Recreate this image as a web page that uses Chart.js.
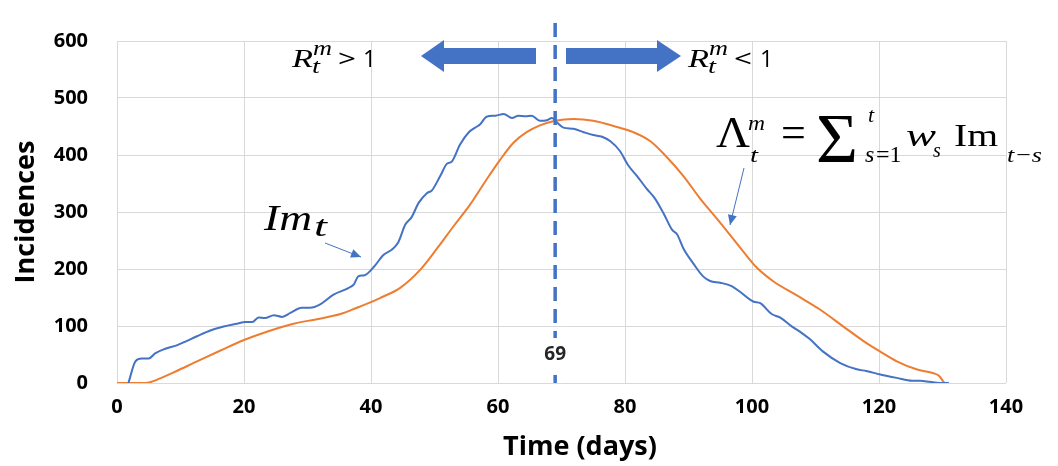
<!DOCTYPE html>
<html>
<head>
<meta charset="utf-8">
<script src="https://cdn.jsdelivr.net/npm/chart.js@4.4.1/dist/chart.umd.min.js"></script>
<style>
  html, body { margin: 0; padding: 0; background: #fff; }
</style>
</head>
<body>
<canvas id="chart" width="1058" height="466"></canvas>
<script>
// Im_t (blue)
const imDays = [1.8, 2.9, 3.9, 5, 6, 7.6, 9.4, 11, 12.6, 14.7, 16.8, 18.9, 20.2, 21.3, 22.3, 23.3, 24.7, 26, 27.3, 29.1,
  30.4, 32, 34.1, 36.5, 37.3, 38, 39, 40.4, 42, 43.3, 44.3, 45.4, 46.4, 47.5, 48.8, 49.6, 50.9, 52, 52.7, 54,
  55.4, 56.4, 57.2, 58.2, 59.6, 60.9, 62.2, 63.2, 64.3, 65.3, 66.6, 67.7, 68.5, 69.3, 70.3, 71.9, 73.5, 75, 76.4, 77.7,
  79.2, 80.5, 81.9, 83.4, 84.7, 86.1, 87.4, 88.2, 89.2, 90.8, 92.3, 93.4, 95, 96.8, 98.1, 100.2, 101.3, 103.1, 104.4, 106.3,
  107.8, 109.1, 111.2, 113.9, 116.5, 118, 120.2, 122.8, 125.2, 126.5, 128, 129.5, 131];
const imValues = [0, 38, 43, 43, 52, 60, 66, 74, 82, 92, 99, 104, 107, 107, 115, 114, 119, 116, 123, 132,
  132, 138, 155, 167, 173, 187, 189, 203, 225, 234, 247, 278, 291, 316, 333, 338, 363, 385, 388, 418,
  440, 448, 454, 467, 469, 472, 465, 469, 468, 469, 460, 461, 465, 457, 448, 446, 440, 435, 432, 424,
  407, 382, 363, 341, 324, 297, 269, 261, 236, 209, 187, 179, 176, 170, 160, 143, 140, 121, 115, 99,
  88, 77, 55, 35, 24, 21, 15, 9, 4, 4, 2, 0, 0];

// Lambda_t (orange)
const lambdaDays = [0, 4.5, 6.8, 9.4, 12.6, 16.3, 19.9, 23.6, 27.8, 31.5, 35.2, 37.8, 39.6, 41.4, 44.6, 47.7, 50.4, 53,
  55.6, 58.2, 60.3, 62.4, 64.5, 66.6, 69, 71.9, 75, 78.2, 81.3, 84, 86.6, 89.2, 91.8, 94.5, 96.6, 98.6,
  100.7, 103.4, 107, 110.7, 114.4, 117.5, 120.2, 122.8, 125.9, 128.6, 129.4, 130.3];
const lambdaValues = [0, 0, 8, 21, 38, 57, 75, 90, 104, 112, 121, 132, 140, 149, 167, 198, 236, 275,
  313, 357, 391, 421, 440, 452, 460, 463, 460, 451, 440, 424, 396, 363, 324, 288, 259, 231,
  203, 178, 154, 129, 99, 74, 55, 38, 24, 17, 13, 0];

const xTicks = [0, 20, 40, 60, 80, 100, 120, 140];
const yTicks = [0, 100, 200, 300, 400, 500, 600];
const peakDay = 69;

const BLUE = '#4472C4';
const ORANGE = '#ED7D31';

function pts(xs, ys) {
  return xs.map((x, i) => ({ x: x, y: ys[i] }));
}

// draw text squeezed/stretched to a given width
function fitText(ctx, str, x, y, w, font) {
  ctx.save();
  ctx.font = font;
  const m = ctx.measureText(str).width;
  ctx.translate(x, y);
  ctx.scale(w / m, 1);
  ctx.fillText(str, 0, 0);
  ctx.restore();
}

function arrowLine(ctx, x1, y1, x2, y2) {
  ctx.save();
  ctx.strokeStyle = BLUE;
  ctx.fillStyle = BLUE;
  ctx.lineWidth = 1;
  ctx.beginPath();
  ctx.moveTo(x1, y1);
  ctx.lineTo(x2, y2);
  ctx.stroke();
  const a = Math.atan2(y2 - y1, x2 - x1);
  ctx.translate(x2, y2);
  ctx.rotate(a);
  ctx.beginPath();
  ctx.moveTo(0, 0);
  ctx.lineTo(-10, -4.5);
  ctx.lineTo(-10, 4.5);
  ctx.closePath();
  ctx.fill();
  ctx.restore();
}

function polygon(ctx, p) {
  ctx.beginPath();
  ctx.moveTo(p[0][0], p[0][1]);
  for (let i = 1; i < p.length; i++) ctx.lineTo(p[i][0], p[i][1]);
  ctx.closePath();
  ctx.fill();
}

const annotations = {
  id: 'annotations',
  afterDatasetsDraw(chart) {
    const ctx = chart.ctx;
    const xs = chart.scales.x;
    const area = chart.chartArea;
    const px = xs.getPixelForValue(peakDay);

    // dashed line at the peak
    ctx.save();
    ctx.strokeStyle = BLUE;
    ctx.lineWidth = 3.5;
    ctx.setLineDash([14, 8]);
    ctx.beginPath();
    ctx.moveTo(px, 23);
    ctx.lineTo(px, area.bottom);
    ctx.stroke();
    ctx.restore();

    ctx.save();
    ctx.fillStyle = '#fff';
    ctx.fillRect(px - 15, 338, 30, 33);
    ctx.fillStyle = '#262626';
    ctx.font = "bold 19px 'Open Sans'";
    ctx.textAlign = 'center';
    ctx.textBaseline = 'middle';
    ctx.fillText(String(peakDay), px, 355);
    ctx.restore();

    // big arrows
    ctx.save();
    ctx.fillStyle = BLUE;
    polygon(ctx, [[421, 56], [444, 40], [444, 48], [536, 48], [536, 64], [444, 64], [444, 72]]);
    polygon(ctx, [[566, 48], [657, 48], [657, 40], [681, 56], [657, 72], [657, 64], [566, 64]]);
    ctx.restore();

    ctx.save();
    ctx.fillStyle = '#000';
    ctx.textBaseline = 'alphabetic';
    const serif = "'Liberation Serif', 'DejaVu Serif', serif";
    // R_t^m > 1
    fitText(ctx, 'R', 292, 67, 21, 'italic 26px ' + serif);
    fitText(ctx, 'm', 313, 55, 19, 'italic 20px ' + serif);
    fitText(ctx, 't', 312, 73, 8, 'italic 20px ' + serif);
    fitText(ctx, '>', 338, 67, 18, "23px 'Open Sans'");
    ctx.font = "23px 'Open Sans'";
    ctx.fillText('1', 363, 67);
    // R_t^m < 1
    fitText(ctx, 'R', 688, 67, 21, 'italic 26px ' + serif);
    fitText(ctx, 'm', 709, 55, 19, 'italic 20px ' + serif);
    fitText(ctx, 't', 708, 73, 8, 'italic 20px ' + serif);
    fitText(ctx, '<', 734, 67, 18, "23px 'Open Sans'");
    ctx.font = "23px 'Open Sans'";
    ctx.fillText('1', 760, 67);

    // Lambda_t^m = sum_{s=1}^t w_s Im_{t-s}
    fitText(ctx, '\u039B', 716, 147, 34, '44px ' + serif);
    fitText(ctx, 'm', 748, 130, 17, 'italic 22px ' + serif);
    fitText(ctx, 't', 750, 162, 8, 'italic 22px ' + serif);
    ctx.font = '44px ' + serif;
    ctx.fillText('=', 781, 147);
    fitText(ctx, '\u03A3', 816, 162, 42, '70px ' + serif);
    ctx.font = 'italic 22px ' + serif;
    ctx.fillText('t', 868, 122);
    ctx.font = 'italic 24px ' + serif;
    ctx.fillText('s', 865, 162);
    ctx.font = '24px ' + serif;
    ctx.fillText('=1', 876, 162);
    fitText(ctx, 'w', 906, 146, 30, 'italic 32px ' + serif);
    ctx.font = 'italic 20px ' + serif;
    ctx.fillText('s', 933, 157);
    fitText(ctx, 'Im', 954, 146, 44, '32px ' + serif);
    fitText(ctx, 't\u2212s', 1007, 162, 35, 'italic 22px ' + serif);

    // Im_t label
    fitText(ctx, 'Im', 264, 230, 48, 'italic 35px ' + serif);
    fitText(ctx, 't', 314, 236, 13, 'italic 30px ' + serif);

    // x axis title
    ctx.font = "bold 27px 'Open Sans'";
    ctx.textAlign = 'center';
    ctx.textBaseline = 'middle';
    ctx.fillText('Time (days)', 580, 447);
    ctx.restore();

    arrowLine(ctx, 325, 243, 361, 257);
    arrowLine(ctx, 744, 168, 730, 225);
  }
};

const tickFont = { family: "'Open Sans'", size: 20, weight: 'bold' };

new Chart(document.getElementById('chart'), {
  type: 'line',
  data: {
    datasets: [
      {
        label: 'Im_t',
        data: pts(imDays, imValues),
        borderColor: BLUE,
        borderWidth: 2,
        pointRadius: 0,
        cubicInterpolationMode: 'monotone',
        fill: false
      },
      {
        label: 'Lambda_t',
        data: pts(lambdaDays, lambdaValues),
        borderColor: ORANGE,
        borderWidth: 2,
        pointRadius: 0,
        cubicInterpolationMode: 'monotone',
        fill: false
      }
    ]
  },
  options: {
    responsive: false,
    animation: false,
    devicePixelRatio: 1,
    layout: { padding: { left: 0, top: 20, right: 52, bottom: 0 } },
    plugins: { legend: { display: false }, tooltip: { enabled: false } },
    scales: {
      x: {
        type: 'linear',
        min: xTicks[0],
        max: xTicks[xTicks.length - 1],
        afterBuildTicks: s => { s.ticks = xTicks.map(v => ({ value: v })); },
        afterFit: s => { s.height = 83; },
        grid: { color: '#d9d9d9', lineWidth: 1, drawTicks: false },
        border: { display: false },
        ticks: { font: tickFont, color: '#000', padding: 12, maxRotation: 0 }
      },
      y: {
        min: yTicks[0],
        max: yTicks[yTicks.length - 1],
        afterBuildTicks: s => { s.ticks = yTicks.map(v => ({ value: v })); },
        afterFit: s => { s.width = 117; },
        grid: { color: '#d9d9d9', lineWidth: 1, drawTicks: false },
        border: { display: false },
        ticks: { font: tickFont, color: '#000', padding: 29 },
        title: {
          display: true,
          text: 'Incidences',
          color: '#000',
          font: { family: "'Open Sans'", size: 27, weight: 'bold' },
          padding: { top: 10, bottom: 0 }
        }
      }
    }
  },
  plugins: [annotations]
});
</script>
</body>
</html>
